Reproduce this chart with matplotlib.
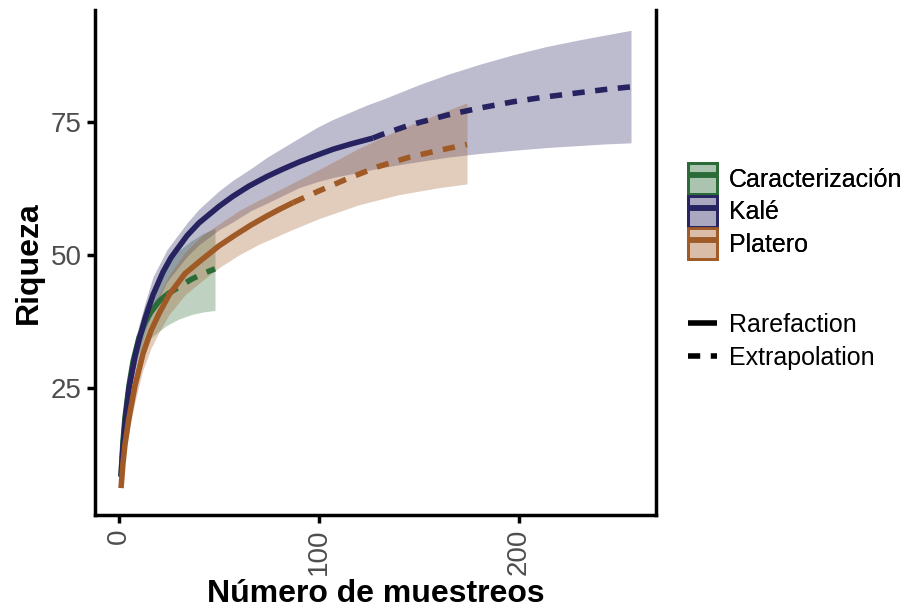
import matplotlib
matplotlib.use("Agg")
import matplotlib.pyplot as plt
from matplotlib.patches import Patch
from matplotlib.lines import Line2D

plt.rcParams['font.family'] = ['Liberation Sans', 'DejaVu Sans']

# Caracterización: rarefaction, extrapolation and 95% band
car_x_rare = [1, 2, 3, 5, 7, 10, 13, 16, 20, 24]
car_y_rare = [8.4, 15, 19.5, 25.5, 30, 34.5, 37.3, 39.3, 41.3, 42.6]
car_x_ext = [24, 30, 36, 42, 48]
car_y_ext = [42.6, 44, 45.4, 46.5, 47.4]
car_x_band = [1, 2, 3, 5, 7, 10, 13, 16, 20, 24, 30, 36, 42, 48]
car_hi = [8.4, 16, 21, 28, 32.5, 37, 40.5, 43, 45.8, 48, 50.8, 52.6, 54, 55]
car_lo = [8.4, 14, 18, 23, 27.3, 31.5, 33.5, 34.5, 35.7, 36.8, 38, 38.8, 39.3, 39.6]

# Kalé
kale_x_rare = [1, 2, 3, 5, 8, 10, 13, 17, 22, 26, 34, 40, 50, 57, 65, 74, 82,
               90, 99, 107, 116, 127]
kale_y_rare = [8.5, 14, 18.5, 25, 31, 34, 38, 42.5, 46.8, 49.5, 53.6, 56, 59.1,
               61, 62.9, 64.7, 66.1, 67.4, 68.7, 69.8, 70.8, 71.9]
kale_x_ext = [127, 131, 145, 164, 180, 197, 213, 230, 243, 256]
kale_y_ext = [71.9, 72.5, 74.3, 76.2, 77.5, 78.7, 79.6, 80.4, 81, 81.5]
kale_x_band = [1, 2, 3, 5, 8, 10, 13, 17, 24, 34, 40, 50, 57, 66, 74, 90, 99,
               107, 124, 132, 140, 150, 164, 180, 197, 213, 230, 243, 256]
kale_hi = [8.5, 14.5, 19.5, 26.5, 32.5, 36.5, 41, 45.9, 51, 56, 58.6, 62, 64,
           66.2, 68.3, 71.9, 73.9, 75.4, 78.1, 79.2, 80.4, 81.9, 83.8, 85.7,
           87.5, 89, 90.3, 91.2, 92.1]
kale_lo = [8.5, 13.5, 17.5, 23.5, 28.5, 31.5, 35.5, 39.7, 45, 49.7, 51.9, 54.7,
           56.2, 58.3, 59.7, 62.6, 63.7, 64.5, 65.8, 66.4, 66.9, 67.5, 68.3, 69,
           69.6, 70.1, 70.5, 70.8, 71]

# Platero
plat_x_rare = [1, 2, 3, 5, 8, 12, 16, 20, 25, 33, 41, 50, 58, 66, 74, 80, 87]
plat_y_rare = [6.3, 11, 14.5, 19.5, 25.5, 31.5, 35.8, 39, 42.5, 46.5, 49, 51.7,
               53.7, 55.6, 57.3, 58.5, 59.8]
plat_x_ext = [87, 100, 115, 130, 145, 160, 174]
plat_y_ext = [59.8, 62, 64.4, 66.6, 68.3, 69.6, 70.7]
plat_x_band = [1, 2, 3, 5, 8, 12, 16, 20, 25, 33, 41, 50, 60, 70, 87, 100, 120,
               140, 160, 174]
plat_hi = [6.3, 12, 16, 22, 28.5, 34.5, 39, 42.5, 46.2, 50.5, 53.5, 55.8, 58.3,
           60.3, 63.5, 66, 70, 73.5, 76.5, 78.5]
plat_lo = [6.3, 10, 13, 17, 22.5, 28.5, 32.5, 35.5, 38.8, 42.5, 45, 47.6, 50,
           52, 54.8, 56.8, 59.4, 61.3, 62.6, 63.3]

sites = ["Caracterización", "Kalé", "Platero"]
colors = ["#2b6b37", "#272360", "#a05a26"]

series = [
    (car_x_rare, car_y_rare, car_x_ext, car_y_ext, car_x_band, car_lo, car_hi),
    (kale_x_rare, kale_y_rare, kale_x_ext, kale_y_ext, kale_x_band, kale_lo, kale_hi),
    (plat_x_rare, plat_y_rare, plat_x_ext, plat_y_ext, plat_x_band, plat_lo, plat_hi),
]

fig = plt.figure(figsize=(9.09, 6.10), dpi=100)
ax = fig.add_axes([95 / 909, 1 - 515 / 610, (656 - 95) / 909, (515 - 10) / 610])

lw = 4
dash = (0, (2.2, 1.9))

for (xr, yr, xe, ye, xb, lo, hi), col in zip(series, colors):
    ax.fill_between(xb, lo, hi, color=col, alpha=0.3, linewidth=0, zorder=1)
for (xr, yr, xe, ye, xb, lo, hi), col in zip(series, colors):
    ax.plot(xr, yr, color=col, lw=lw, solid_capstyle='butt', zorder=3)
    ax.plot(xe, ye, color=col, lw=lw, linestyle=dash, dash_capstyle='butt', zorder=3)

ax.set_xlim(-12, 268.5)
ax.set_ylim(1.26, 95.9)
ax.set_xticks([0, 100, 200])
ax.set_yticks([25, 50, 75])
ax.tick_params(axis='both', length=6, width=2.5, color='black',
               labelsize=20, labelcolor='#4d4d4d')
ax.tick_params(axis='x', labelrotation=90)
for side in ['left', 'right', 'bottom']:
    ax.spines[side].set_linewidth(2.5)
    ax.spines[side].set_color('black')
ax.spines['top'].set_visible(False)

ax.set_xlabel("Número de muestreos", fontsize=23, fontweight='bold', labelpad=3)
ax.set_ylabel("Riqueza", fontsize=23, fontweight='bold', labelpad=5)

# site legend: shaded box with the curve colour through it
site_handles = [
    (Patch(facecolor=col, alpha=0.22, edgecolor='none'),
     Patch(facecolor='none', edgecolor=col, linewidth=2),
     Line2D([], [], color=col, lw=lw, solid_capstyle='butt'))
    for col in colors
]
leg1 = fig.legend(site_handles, sites, loc='upper left',
                  bbox_to_anchor=(688 / 909, 1 - 163 / 610),
                  frameon=False, fontsize=18, handlelength=1.15, handleheight=1.55,
                  handletextpad=0.5, labelspacing=0.05, borderpad=0,
                  borderaxespad=0)
fig.add_artist(leg1)

method_handles = [
    Line2D([], [], color='black', lw=lw, solid_capstyle='butt'),
    Line2D([], [], color='black', lw=lw, linestyle=dash, dash_capstyle='butt'),
]
fig.legend(method_handles, ["Rarefaction", "Extrapolation"], loc='upper left',
           bbox_to_anchor=(688 / 909, 1 - 313 / 610),
           frameon=False, fontsize=18, handlelength=1.15,
           handletextpad=0.5, labelspacing=0.35, borderpad=0, borderaxespad=0)

fig.savefig("out.png", dpi=100)
